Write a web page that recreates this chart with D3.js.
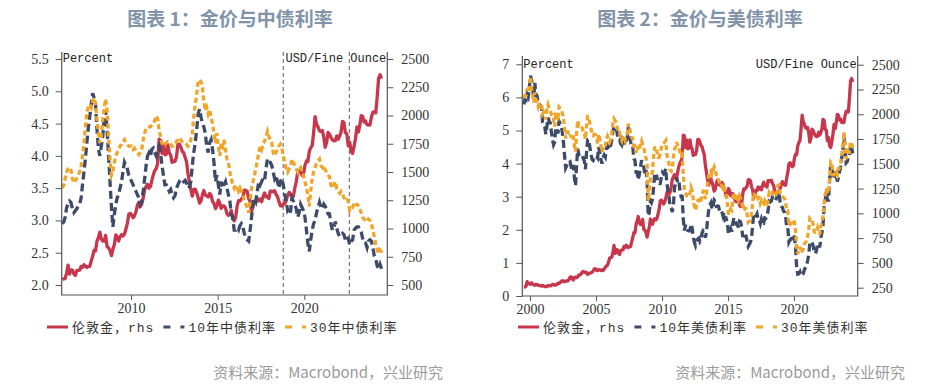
<!DOCTYPE html>
<meta charset="utf-8">
<script src="https://cdn.jsdelivr.net/npm/d3@7"></script>
<style>
  body { margin: 0; background: #fff; }
</style>
<svg id="chart" width="929" height="389" style="background:#fff"></svg>

<script>

// ---- data (monthly) ----
// gold, USD/oz, Jul 1999 - Jun 2024
var goldStart = new Date(1999, 6, 15);
var gold = [
  256,257,265,311,293,290,
  284,300,286,280,275,285,282,274,274,270,266,272,
  266,262,263,260,272,270,268,273,284,283,276,276,
  282,296,294,302,314,322,314,310,319,317,319,333,
  357,359,340,328,355,356,351,360,379,379,389,407,
  414,405,406,404,384,392,398,400,405,420,439,442,
  424,423,434,429,422,431,424,437,456,470,476,510,
  549,555,557,610,676,596,633,632,598,585,627,629,
  631,665,655,679,667,655,665,665,712,754,806,803,
  889,922,968,909,888,889,939,839,829,806,760,816,
  858,943,924,890,928,946,934,949,996,1043,1127,1134,
  1118,1095,1113,1148,1205,1232,1193,1215,1271,1343,1370,1391,
  1356,1372,1424,1474,1512,1529,1572,1790,1780,1665,1739,1652,
  1656,1742,1673,1650,1585,1596,1594,1630,1745,1747,1721,1684,
  1671,1627,1593,1487,1414,1343,1286,1347,1349,1316,1275,1225,
  1244,1300,1336,1299,1288,1279,1311,1296,1239,1222,1176,1200,
  1251,1227,1179,1198,1199,1182,1131,1117,1125,1159,1086,1068,
  1097,1200,1246,1242,1260,1276,1337,1340,1326,1266,1236,1152,
  1192,1234,1231,1266,1246,1260,1237,1283,1315,1280,1283,1265,
  1331,1331,1325,1335,1303,1282,1238,1202,1198,1215,1221,1250,
  1291,1320,1300,1286,1284,1359,1413,1500,1511,1495,1471,1480,
  1560,1597,1592,1683,1715,1732,1847,1990,1921,1900,1866,1858,
  1867,1808,1718,1760,1850,1834,1807,1785,1775,1777,1820,1790,
  1817,1856,1948,1937,1849,1837,1732,1764,1681,1665,1726,1798,
  1898,1854,1912,1999,1992,1942,1951,1918,1916,1916,1985,2030,
  2033,2023,2158,2331,2360,2326
];

// US treasury yields, %, Jul 1999 - Jun 2024
var usStart = new Date(1999, 6, 15);
var us10 = [
  5.79,5.94,5.92,6.11,6.03,6.28,
  6.66,6.52,6.26,5.99,6.44,6.10,6.05,5.83,5.80,5.74,5.72,5.24,
  5.16,5.10,4.89,5.14,5.39,5.28,5.24,4.97,4.73,4.57,4.65,5.09,
  5.04,4.91,5.28,5.21,5.16,4.93,4.65,4.26,3.87,3.94,4.05,4.03,
  4.05,3.90,3.81,3.96,3.57,3.33,3.98,4.45,4.27,4.29,4.30,4.27,
  4.15,4.08,3.83,4.35,4.72,4.73,4.50,4.28,4.13,4.10,4.19,4.23,
  4.22,4.17,4.50,4.34,4.14,4.00,4.18,4.26,4.20,4.46,4.54,4.47,
  4.42,4.57,4.72,4.99,5.11,5.11,5.09,4.88,4.72,4.73,4.60,4.56,
  4.76,4.72,4.56,4.69,4.75,5.10,5.00,4.67,4.52,4.53,4.15,4.10,
  3.74,3.74,3.51,3.68,3.88,4.10,4.01,3.89,3.69,3.81,3.53,2.42,
  2.52,2.87,2.82,2.93,3.29,3.72,3.56,3.59,3.40,3.39,3.40,3.59,
  3.73,3.69,3.73,3.85,3.42,3.20,3.01,2.70,2.65,2.54,2.76,3.29,
  3.39,3.58,3.41,3.46,3.17,3.00,3.00,2.30,1.98,2.15,2.01,1.98,
  1.97,1.97,2.17,2.05,1.80,1.62,1.53,1.68,1.72,1.75,1.65,1.72,
  1.91,1.98,1.96,1.76,1.93,2.30,2.58,2.74,2.81,2.62,2.72,2.90,
  2.86,2.71,2.72,2.71,2.56,2.60,2.54,2.42,2.53,2.30,2.33,2.21,
  1.88,1.98,2.04,1.94,2.20,2.36,2.32,2.17,2.17,2.07,2.26,2.24,
  2.09,1.78,1.89,1.81,1.81,1.64,1.50,1.56,1.63,1.76,2.14,2.49,
  2.43,2.42,2.48,2.30,2.30,2.19,2.32,2.21,2.20,2.36,2.35,2.40,
  2.58,2.86,2.84,2.87,2.98,2.91,2.89,2.89,3.00,3.15,3.12,2.83,
  2.71,2.68,2.57,2.53,2.40,2.07,2.06,1.63,1.70,1.71,1.81,1.86,
  1.76,1.50,0.87,0.66,0.67,0.73,0.62,0.65,0.68,0.79,0.87,0.93,
  1.08,1.26,1.61,1.64,1.62,1.52,1.32,1.28,1.37,1.58,1.56,1.47,
  1.76,1.93,2.13,2.75,2.90,3.14,2.90,2.90,3.52,3.98,3.89,3.62,
  3.53,3.75,3.66,3.46,3.57,3.75,3.90,4.17,4.38,4.80,4.50,4.02,
  4.06,4.21,4.21,4.54,4.48,4.31
];
var us30 = [
  5.98,6.07,6.07,6.26,6.15,6.35,
  6.63,6.23,6.05,5.85,6.15,5.93,5.85,5.72,5.83,5.80,5.78,5.49,
  5.54,5.45,5.34,5.65,5.78,5.67,5.61,5.48,5.48,5.32,5.12,5.48,
  5.45,5.40,5.71,5.67,5.64,5.52,5.39,5.08,4.76,4.93,4.96,4.92,
  4.94,4.81,4.80,4.90,4.53,4.37,4.93,5.30,5.14,5.16,5.11,5.08,
  4.98,4.93,4.74,5.14,5.42,5.41,5.22,5.06,4.90,4.85,4.89,4.88,
  4.77,4.61,4.89,4.75,4.56,4.35,4.48,4.53,4.51,4.74,4.83,4.73,
  4.65,4.73,4.91,5.22,5.35,5.29,5.25,5.08,4.93,4.94,4.78,4.70,
  4.85,4.82,4.72,4.87,4.90,5.20,5.11,4.93,4.79,4.77,4.52,4.53,
  4.33,4.52,4.39,4.44,4.60,4.69,4.57,4.50,4.27,4.17,4.00,2.87,
  3.13,3.59,3.64,3.76,4.23,4.52,4.41,4.37,4.19,4.19,4.31,4.49,
  4.60,4.62,4.64,4.69,4.29,4.13,3.99,3.80,3.77,3.87,4.19,4.42,
  4.52,4.65,4.51,4.50,4.29,4.23,4.27,3.65,3.18,3.13,3.02,2.98,
  3.03,3.11,3.28,3.18,2.93,2.70,2.59,2.77,2.88,2.90,2.80,2.88,
  3.08,3.17,3.16,2.93,3.11,3.40,3.61,3.76,3.79,3.68,3.80,3.89,
  3.77,3.66,3.62,3.52,3.39,3.42,3.33,3.20,3.26,3.04,3.04,2.83,
  2.46,2.57,2.63,2.59,2.96,3.11,3.07,2.86,2.95,2.89,3.03,2.97,
  2.86,2.62,2.68,2.62,2.63,2.45,2.23,2.26,2.35,2.50,2.86,3.11,
  3.02,3.03,3.08,2.94,2.96,2.80,2.88,2.80,2.78,2.88,2.80,2.77,
  2.88,3.13,3.09,3.07,3.13,3.05,3.01,3.04,3.15,3.34,3.36,3.10,
  3.04,3.02,2.98,2.94,2.82,2.57,2.57,2.12,2.16,2.19,2.28,2.30,
  2.22,1.97,1.46,1.27,1.38,1.49,1.31,1.36,1.42,1.57,1.62,1.67,
  1.82,2.04,2.34,2.30,2.32,2.16,1.94,1.92,1.94,2.06,1.94,1.85,
  2.10,2.25,2.41,2.81,3.07,3.25,3.10,3.13,3.56,4.04,4.00,3.66,
  3.66,3.80,3.77,3.68,3.86,3.87,3.96,4.28,4.47,4.95,4.66,4.14,
  4.26,4.38,4.36,4.66,4.62,4.44
];

// China government bond yields, %, Jan 2006 - Jun 2024
var cnStart = new Date(2006, 0, 15);
var cn10 = [
  2.95,2.98,3.05,3.20,3.25,3.30,3.28,3.18,3.12,3.15,3.18,3.22,
  3.25,3.35,3.55,3.75,3.95,4.20,4.43,4.60,4.80,4.97,4.90,4.80,
  4.40,4.10,4.00,4.15,4.30,4.60,4.70,4.40,4.00,3.60,3.20,2.90,
  3.10,3.25,3.35,3.40,3.50,3.60,3.75,3.90,3.85,3.80,3.70,3.65,
  3.60,3.55,3.50,3.45,3.40,3.35,3.25,3.30,3.45,3.65,3.85,4.00,
  4.05,4.00,4.10,4.12,4.05,4.00,4.10,4.15,4.05,3.85,3.70,3.55,
  3.55,3.50,3.45,3.48,3.40,3.35,3.38,3.50,3.55,3.60,3.58,3.62,
  3.60,3.62,3.58,3.50,3.52,3.60,3.85,4.05,4.20,4.40,4.65,4.72,
  4.60,4.50,4.45,4.35,4.15,4.05,4.20,4.25,4.10,3.90,3.60,3.70,
  3.55,3.40,3.60,3.50,3.55,3.60,3.50,3.40,3.30,3.10,3.05,2.85,
  2.85,2.88,2.85,2.92,2.95,2.90,2.80,2.72,2.70,2.68,2.85,3.05,
  3.30,3.35,3.30,3.45,3.60,3.55,3.60,3.65,3.62,3.80,3.95,3.90,
  3.90,3.85,3.75,3.65,3.70,3.60,3.50,3.60,3.65,3.55,3.40,3.30,
  3.15,3.18,3.12,3.35,3.30,3.25,3.18,3.05,3.12,3.25,3.20,3.15,
  3.05,2.85,2.65,2.52,2.70,2.85,2.95,3.00,3.12,3.20,3.28,3.20,
  3.18,3.25,3.22,3.18,3.10,3.10,2.95,2.85,2.88,2.98,2.88,2.80,
  2.75,2.78,2.80,2.78,2.70,2.75,2.72,2.62,2.68,2.70,2.85,2.88,
  2.90,2.90,2.86,2.82,2.72,2.65,2.65,2.58,2.68,2.70,2.68,2.58,
  2.45,2.40,2.30,2.25,2.32,2.25
];
var cn30 = [
  3.50,3.55,3.65,3.75,3.80,3.82,3.78,3.65,3.58,3.62,3.65,3.70,
  3.75,3.85,4.00,4.20,4.45,4.68,4.75,4.80,4.75,4.85,4.90,4.80,
  4.55,4.35,4.20,4.30,4.55,4.75,4.88,4.70,4.30,3.95,3.70,3.75,
  3.90,4.00,4.05,4.10,4.15,4.18,4.22,4.25,4.20,4.18,4.15,4.15,
  4.15,4.10,4.12,4.08,4.05,4.02,4.05,4.10,4.25,4.35,4.42,4.45,
  4.45,4.45,4.48,4.50,4.55,4.62,4.58,4.40,4.30,4.20,4.15,4.18,
  4.20,4.22,4.20,4.18,4.15,4.15,4.18,4.22,4.25,4.28,4.25,4.22,
  4.22,4.20,4.18,4.15,4.18,4.25,4.35,4.60,4.80,4.95,5.15,5.18,
  5.15,5.05,4.85,4.70,4.75,4.65,4.72,4.60,4.50,4.35,4.20,4.35,
  4.15,4.00,4.20,4.15,4.25,4.10,3.95,3.90,3.75,3.65,3.55,3.50,
  3.55,3.50,3.45,3.50,3.45,3.40,3.30,3.25,3.20,3.12,3.30,3.50,
  3.60,3.70,3.80,3.92,4.05,4.15,4.10,4.20,4.22,4.30,4.38,4.30,
  4.25,4.20,4.05,4.00,4.05,4.10,4.15,4.18,4.12,4.00,3.90,3.80,
  3.75,3.80,3.85,3.95,3.90,3.85,3.80,3.75,3.80,3.82,3.75,3.70,
  3.60,3.50,3.40,3.22,3.45,3.65,3.75,3.82,3.88,3.92,3.95,3.85,
  3.82,3.85,3.78,3.75,3.70,3.68,3.55,3.50,3.55,3.60,3.50,3.45,
  3.42,3.45,3.42,3.35,3.30,3.32,3.30,3.15,3.18,3.20,3.28,3.25,
  3.25,3.22,3.18,3.12,3.05,3.02,3.00,2.98,3.02,3.00,2.95,2.85,
  2.75,2.62,2.55,2.48,2.58,2.50
];

// axis ticks
var pctTicks1 = [2.0, 2.5, 3.0, 3.5, 4.0, 4.5, 5.0, 5.5];
var usdTicks1 = [500, 750, 1000, 1250, 1500, 1750, 2000, 2250, 2500];
var pctTicks2 = [0, 1, 2, 3, 4, 5, 6, 7];
var usdTicks2 = [250, 500, 750, 1000, 1250, 1500, 1750, 2000, 2250, 2500];
var yearTicks1 = [2010, 2015, 2020];
var yearTicks2 = [2000, 2005, 2010, 2015, 2020];
// vertical dashed markers in chart 1
var markerDates = [new Date(2018, 9, 15), new Date(2022, 7, 8)];

var colors = {gold: "#c8364c", ten: "#3d4a68", thirty: "#f0a52a"};

function toSeries(start, values) {
  return values.map(function(v, i) { return {date: d3.timeMonth.offset(start, i), value: v}; });
}

var svg = d3.select("#chart");

function draw(o) {
  var g = svg.append("g");

  var x = d3.scaleTime().domain(o.xDomain).range([o.left, o.right]);
  var yL = d3.scaleLinear().domain(o.yLDomain).range(o.yLRange);
  var yR = d3.scaleLinear().domain(o.yRDomain).range(o.yRRange);

  // title
  g.append("text")
    .attr("x", o.titleX).attr("y", 26)
    .attr("text-anchor", "middle")
    .style("font-family", "'Noto Sans CJK SC', sans-serif")
    .style("font-weight", "bold")
    .style("font-size", "19px")
    .style("fill", "#8193a8")
    .text(o.title);

  // markers
  (o.markers || []).forEach(function(d) {
    g.append("line")
      .attr("x1", x(d)).attr("x2", x(d))
      .attr("y1", o.top).attr("y2", o.bottom)
      .style("stroke", "#777").style("stroke-width", 1.2)
      .style("stroke-dasharray", "4,3");
  });

  // lines
  var lineL = d3.line().x(function(d) { return x(d.date); }).y(function(d) { return yL(d.value); });
  var lineR = d3.line().x(function(d) { return x(d.date); }).y(function(d) { return yR(d.value); });

  g.append("path").datum(o.gold)
    .attr("d", lineR)
    .style("fill", "none").style("stroke", colors.gold)
    .style("stroke-width", 3.3).style("stroke-linejoin", "round");
  g.append("path").datum(o.ten)
    .attr("d", lineL)
    .style("fill", "none").style("stroke", colors.ten)
    .style("stroke-width", 3.3).style("stroke-dasharray", "8,4");
  g.append("path").datum(o.thirty)
    .attr("d", lineL)
    .style("fill", "none").style("stroke", colors.thirty)
    .style("stroke-width", 3.3).style("stroke-dasharray", "5,3");

  // axes
  var axL = g.append("g")
    .attr("transform", "translate(" + o.left + ",0)")
    .call(d3.axisLeft(yL).tickValues(o.yLTicks).tickSize(6).tickPadding(7).tickFormat(o.yLFormat));
  var axR = g.append("g")
    .attr("transform", "translate(" + o.right + ",0)")
    .call(d3.axisRight(yR).tickValues(o.yRTicks).tickSize(6).tickPadding(8).tickFormat(d3.format("d")));
  var axB = g.append("g")
    .attr("transform", "translate(0," + o.bottom + ")")
    .call(d3.axisBottom(x).tickValues(o.years.map(function(y) { return new Date(y, 0, 1); }))
      .tickSize(5).tickPadding(3).tickFormat(d3.timeFormat("%Y")));
  [axL, axR, axB].forEach(function(a) {
    a.select(".domain").remove();
    a.selectAll("line").style("stroke", "#555");
    a.selectAll("text")
      .style("font-family", "'Liberation Serif', serif")
      .style("font-size", "14px")
      .style("fill", "#333");
  });

  // frame: left, right, bottom
  g.append("path")
    .attr("d", "M" + o.left + "," + o.top + "V" + o.bottom + "H" + o.right + "V" + o.top)
    .style("fill", "none").style("stroke", "#555").style("stroke-width", 1.2);

  // unit labels
  g.append("text")
    .attr("x", o.left + 1).attr("y", o.unitY)
    .style("font-family", "'Liberation Mono', monospace")
    .style("font-size", "12px").style("fill", "#222")
    .text("Percent");
  g.append("text")
    .attr("x", o.right - 1).attr("y", o.unitY)
    .attr("text-anchor", "end")
    .style("font-family", "'Liberation Mono', monospace")
    .style("font-size", "12px").style("fill", "#222")
    .text("USD/Fine Ounce");

  // legend
  var leg = g.append("g")
    .attr("transform", "translate(" + o.legendX + ",327)");
  var items = [
    {label: "伦敦金，rhs", color: colors.gold, dash: null},
    {label: o.tenLabel, color: colors.ten, dash: "7,10"},
    {label: o.thirtyLabel, color: colors.thirty, dash: "7,10"}
  ];
  var lx = 0;
  items.forEach(function(it) {
    leg.append("line")
      .attr("x1", lx).attr("x2", lx + 21).attr("y1", 0).attr("y2", 0)
      .style("stroke", it.color).style("stroke-width", 3)
      .style("stroke-dasharray", it.dash);
    var t = leg.append("text")
      .attr("x", lx + 25).attr("y", 5)
      .style("font-family", "'Liberation Mono', 'Noto Sans CJK SC', monospace")
      .style("font-size", "13px")
      .style("letter-spacing", "1px")
      .style("fill", "#333")
      .text(it.label);
    lx += 25 + t.node().getComputedTextLength() + 9;
  });

  // source
  g.append("text")
    .attr("x", o.sourceX).attr("y", 378)
    .attr("text-anchor", "end")
    .style("font-family", "'Noto Sans CJK SC', sans-serif")
    .style("font-size", "15px")
    .style("fill", "#9a9a9a")
    .text("资料来源：Macrobond，兴业研究");
}

draw({
  title: "图表 1：金价与中债利率", titleX: 230,
  left: 61.7, right: 387.3, top: 52, bottom: 295,
  xDomain: [new Date(2006, 0, 1), new Date(2024, 9, 15)],
  yLDomain: [2.0, 5.5], yLRange: [285, 59],
  yRDomain: [500, 2500], yRRange: [285, 59],
  yLTicks: pctTicks1, yRTicks: usdTicks1, yLFormat: d3.format(".1f"),
  years: yearTicks1, markers: markerDates, unitY: 62,
  gold: toSeries(goldStart, gold).filter(function(d) { return d.date >= cnStart; }),
  ten: toSeries(cnStart, cn10), thirty: toSeries(cnStart, cn30),
  tenLabel: "10年中债利率", thirtyLabel: "30年中债利率",
  legendX: 47, sourceX: 443
});

draw({
  title: "图表 2：金价与美债利率", titleX: 700,
  left: 522.3, right: 857.7, top: 56, bottom: 296,
  xDomain: [new Date(1999, 5, 3), new Date(2024, 9, 30)],
  yLDomain: [0, 7], yLRange: [296, 64.3],
  yRDomain: [250, 2500], yRRange: [287.7, 64.7],
  yLTicks: pctTicks2, yRTicks: usdTicks2, yLFormat: d3.format("d"),
  years: yearTicks2, markers: [], unitY: 68,
  gold: toSeries(goldStart, gold),
  ten: toSeries(usStart, us10), thirty: toSeries(usStart, us30),
  tenLabel: "10年美债利率", thirtyLabel: "30年美债利率",
  legendX: 518, sourceX: 905
});

</script>
